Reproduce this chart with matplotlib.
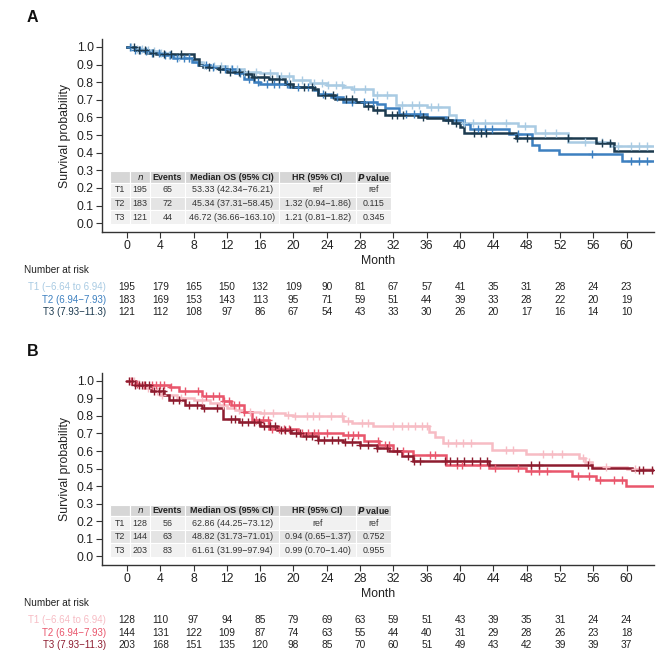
import numpy as np
import matplotlib
matplotlib.use("Agg")
import matplotlib.pyplot as plt
import matplotlib.transforms as mtransforms
from matplotlib.patches import Rectangle

plt.rcParams['font.family'] = ['Liberation Sans Narrow', 'Liberation Sans', 'DejaVu Sans']
plt.rcParams['mathtext.fontset'] = 'custom'
plt.rcParams['mathtext.rm'] = 'Liberation Sans Narrow'
plt.rcParams['mathtext.bf'] = 'Liberation Sans Narrow:bold'
plt.rcParams['mathtext.it'] = 'Liberation Sans Narrow:italic'
plt.rcParams['mathtext.bfit'] = 'Liberation Sans Narrow:italic:bold'

# ---------------- data ----------------
groups = ["T1 (\u22126.64 to 6.94)", "T2 (6.94\u22127.93)", "T3 (7.93\u221211.3)"]
risk_times = [0, 4, 8, 12, 16, 20, 24, 28, 32, 36, 40, 44, 48, 52, 56, 60]

# Panel A
a_t1_times = [0, 1, 2, 3, 4, 5, 6, 7, 8, 9, 10, 12, 14, 16, 18, 20, 22, 24, 26, 27, 29.5, 32.3, 36, 38.7, 39.5, 47, 49, 53, 58]
a_t1_surv = [1.0, 0.99, 0.985, 0.975, 0.965, 0.955, 0.945, 0.935, 0.915, 0.9, 0.89, 0.875, 0.86, 0.85, 0.835, 0.81, 0.795, 0.785, 0.775, 0.76, 0.73, 0.67, 0.657, 0.614, 0.57, 0.55, 0.513, 0.462, 0.437]
a_t2_times = [0, 1, 2, 3, 4, 5.5, 7.8, 8.5, 10, 11, 13, 14, 15.3, 16, 19.5, 22.5, 23, 24.5, 26, 30, 31, 32.7, 36, 38.3, 40.5, 41.2, 45.9, 48.6, 49.5, 51.9, 59.4]
a_t2_surv = [1.0, 0.985, 0.975, 0.965, 0.955, 0.935, 0.915, 0.9, 0.885, 0.875, 0.85, 0.82, 0.80, 0.79, 0.775, 0.755, 0.735, 0.715, 0.69, 0.675, 0.655, 0.62, 0.605, 0.585, 0.56, 0.535, 0.505, 0.443, 0.415, 0.392, 0.354]
a_t3_times = [0, 1, 2.5, 3.5, 8, 8.6, 9.1, 11, 12, 14, 15, 17, 19, 20, 22.5, 23, 25, 27.5, 28.5, 29.5, 31, 35, 36, 38, 39, 40, 40.5, 46.7, 56.3, 58.5]
a_t3_surv = [1.0, 0.985, 0.967, 0.96, 0.93, 0.9, 0.888, 0.875, 0.86, 0.845, 0.83, 0.82, 0.79, 0.775, 0.76, 0.725, 0.705, 0.69, 0.665, 0.645, 0.614, 0.605, 0.595, 0.585, 0.57, 0.547, 0.51, 0.483, 0.453, 0.41]
a_t1_cens = [0.5, 1.2, 1.8, 2.5, 3.2, 4.1, 5.0, 6.3, 7.5, 9.2, 10.5, 11.3, 12.5, 13.2, 14.1, 15.5, 17.2, 18.5, 19.5, 21, 22.5, 23.4, 24.2, 25.1, 25.8, 27.3, 28.6, 30.0, 31.2, 33.0, 34.2, 35.1, 36.5, 37.4, 40.5, 41.6, 43.0, 45.5, 47.8, 50.2, 51.5, 55, 57, 59, 60.5, 61.5, 62.5]
a_t2_cens = [0.4, 1.0, 1.6, 2.3, 3.0, 3.8, 4.6, 5.2, 6.0, 6.8, 7.4, 9.5, 10.3, 11.8, 12.6, 13.6, 14.6, 15.7, 16.8, 17.6, 18.3, 19.2, 20.5, 21.7, 23.5, 25.2, 27.0, 28.5, 29.5, 33.5, 34.5, 35.2, 42.2, 43.0, 43.8, 47.0, 55.8, 60.5, 61.5, 62.5]
a_t3_cens = [0.8, 1.5, 2.2, 3.1, 4.4, 5.3, 6.5, 9.8, 11.2, 12.4, 13.5, 14.5, 15.2, 16.4, 17.4, 18.2, 19.6, 21.3, 22.2, 23.8, 24.8, 26.3, 27.0, 29.0, 30.0, 31.8, 32.4, 33.2, 35.5, 38.6, 39.5, 41.7, 42.5, 43.1, 46.9, 48.0, 53.0, 57.0, 58.0]
a_risk_t1 = [195, 179, 165, 150, 132, 109, 90, 81, 67, 57, 41, 35, 31, 28, 24, 23]
a_risk_t2 = [183, 169, 153, 143, 113, 95, 71, 59, 51, 44, 39, 33, 28, 22, 20, 19]
a_risk_t3 = [121, 112, 108, 97, 86, 67, 54, 43, 33, 30, 26, 20, 17, 16, 14, 10]
a_n = ["195", "183", "121"]
a_events = ["65", "72", "44"]
a_median = ["53.33 (42.34\u221276.21)", "45.34 (37.31\u221258.45)", "46.72 (36.66\u2212163.10)"]
a_hr = ["ref", "1.32 (0.94\u22121.86)", "1.21 (0.81\u22121.82)"]
a_p = ["ref", "0.115", "0.345"]

# Panel B
b_t1_times = [0, 1, 2, 3, 4, 6, 8, 10, 11, 12, 13, 14, 16, 19, 20, 26, 27, 29.5, 36.3, 37, 38, 43.9, 47.9, 54.3, 55, 55.8, 60]
b_t1_surv = [1.0, 0.98, 0.96, 0.94, 0.92, 0.905, 0.89, 0.875, 0.86, 0.845, 0.835, 0.825, 0.815, 0.805, 0.80, 0.77, 0.76, 0.74, 0.71, 0.68, 0.646, 0.608, 0.583, 0.56, 0.54, 0.51, 0.50]
b_t2_times = [0, 1, 1.5, 5.2, 6.2, 9, 11.5, 12.5, 14, 15, 17, 20.5, 26, 28.5, 30.3, 32, 34.3, 38.3, 43.5, 47.9, 53.5, 56.3, 59.9]
b_t2_surv = [1.0, 0.985, 0.975, 0.965, 0.945, 0.915, 0.885, 0.865, 0.82, 0.775, 0.725, 0.705, 0.69, 0.66, 0.635, 0.60, 0.58, 0.523, 0.505, 0.485, 0.456, 0.437, 0.40]
b_t3_times = [0, 1, 2.9, 4.5, 5, 7, 9, 11.5, 13.5, 16, 18, 19.7, 21, 22.9, 26, 28, 30, 31.5, 33, 34.3, 43.5, 55.9, 60.7]
b_t3_surv = [1.0, 0.975, 0.94, 0.92, 0.89, 0.865, 0.845, 0.78, 0.765, 0.745, 0.72, 0.70, 0.685, 0.665, 0.65, 0.635, 0.615, 0.60, 0.57, 0.545, 0.52, 0.504, 0.49]
b_t1_cens = [0.3, 0.8, 1.5, 2.5, 3.6, 4.2, 6.5, 9.0, 11.5, 13.5, 14.8, 16.5, 17.5, 19.3, 20.2, 21.6, 22.4, 23.1, 24.5, 25.8, 26.6, 28.2, 29.0, 32.0, 33.0, 33.8, 34.6, 35.4, 36.0, 38.5, 39.5, 40.4, 41.3, 45.5, 46.4, 50.0, 51.0, 52.2, 54.8, 55.5, 57.5, 61.0]
b_t2_cens = [0.5, 1.2, 2.0, 3.0, 3.5, 4.0, 4.5, 5.3, 7.0, 8.5, 9.5, 10.3, 11.0, 11.6, 12.3, 12.8, 13.5, 14.0, 15.5, 16.3, 16.9, 17.4, 18.2, 18.9, 19.5, 21.0, 21.8, 22.5, 23.0, 24.0, 26.5, 27.2, 27.8, 30.2, 31.0, 31.5, 33.2, 36.4, 37.0, 39.6, 40.2, 42.4, 44.2, 47.0, 48.5, 49.5, 50.5, 54.2, 55.5, 56.8, 58.5, 59.5]
b_t3_cens = [0.2, 0.6, 1.0, 1.4, 1.8, 2.2, 2.7, 3.3, 3.8, 4.3, 5.5, 6.2, 7.5, 8.4, 9.3, 10.8, 12.5, 13.0, 13.8, 14.5, 15.2, 15.8, 16.5, 17.2, 17.8, 18.5, 19.0, 19.6, 20.3, 20.8, 21.5, 22.2, 23.0, 23.7, 24.6, 25.4, 26.2, 27.0, 28.0, 29.0, 30.0, 31.2, 32.4, 33.8, 34.5, 35.2, 38.2, 38.8, 39.6, 40.5, 41.5, 42.4, 43.3, 48.5, 49.5, 55.4, 61.5, 62.0, 63.0]
b_risk_t1 = [128, 110, 97, 94, 85, 79, 69, 63, 59, 51, 43, 39, 35, 31, 24, 24]
b_risk_t2 = [144, 131, 122, 109, 87, 74, 63, 55, 44, 40, 31, 29, 28, 26, 23, 18]
b_risk_t3 = [203, 168, 151, 135, 120, 98, 85, 70, 60, 51, 49, 43, 42, 39, 39, 37]
b_n = ["128", "144", "203"]
b_events = ["56", "63", "83"]
b_median = ["62.86 (44.25\u221273.12)", "48.82 (31.73\u221271.01)", "61.61 (31.99\u221297.94)"]
b_hr = ["ref", "0.94 (0.65\u22121.37)", "0.99 (0.70\u22121.40)"]
b_p = ["ref", "0.752", "0.955"]

table_header = ["", "n", "Events", "Median OS (95% CI)", "HR (95% CI)", "P value"]
row_names = ["T1", "T2", "T3"]

colors_a = ["#a9cbe3", "#3d80c0", "#1c3a4f"]
colors_b = ["#f7bcc4", "#e9566c", "#8d1c2f"]

# ---------------- layout ----------------
W, H = 662, 656
fig = plt.figure(figsize=(W / 100, H / 100), dpi=100)

def fy(py):
    return 1 - py / H

END = 63.2
XLIM = (-3.0, 63.3)
YLIM = (-0.05, 1.045)
col_edges = [-2.0, 0.4, 2.75, 6.95, 18.3, 27.5, 31.7]  # months
row_edges = [0.295, 0.227, 0.150, 0.073, -0.004]        # survival units
TFS = 6.4


def step_at(times, surv, t):
    idx = np.searchsorted(np.asarray(times), np.asarray(t), side='right') - 1
    return np.asarray(surv)[idx]


def panel(top_px, bot_px, letter, curves, risks, table_cols, colors):
    left, right = 102 / W, 654 / W
    ax = fig.add_axes([left, fy(bot_px), right - left, fy(top_px) - fy(bot_px)])
    for (tm, sv, cens), c in zip(curves, colors):
        tt = list(tm) + [END]
        ss = list(sv) + [sv[-1]]
        ax.step(tt, ss, where='post', color=c, lw=1.8, solid_joinstyle='miter', zorder=3)
        ax.plot(cens, step_at(tm, sv, cens), ls='none', marker='+', ms=6, mew=1.0,
                color=c, zorder=4)
    ax.set_xlim(*XLIM)
    ax.set_ylim(*YLIM)
    ax.set_xticks(risk_times)
    ax.set_yticks(np.round(np.arange(0, 1.01, 0.1), 1))
    ax.set_yticklabels([f"{v:.1f}" for v in np.arange(0, 1.01, 0.1)])
    for s in ['top', 'right']:
        ax.spines[s].set_visible(False)
    for s in ['left', 'bottom']:
        ax.spines[s].set_color('#333333')
        ax.spines[s].set_linewidth(1.0)
    ax.tick_params(axis='both', direction='out', length=4, width=0.8, color='#333333',
                   labelsize=8.8, labelcolor='#222222', pad=2)
    ax.set_ylabel("Survival probability", fontsize=8.8, color='#222222', labelpad=4)
    ax.set_xlabel("Month", fontsize=8.8, color='#222222', labelpad=2)

    # table
    ncol = len(table_header)
    bgs = ['#d6d6d6', '#f1f1f1', '#e4e4e4', '#f1f1f1']
    for r in range(4):
        y0, y1 = row_edges[r + 1], row_edges[r]
        for cidx in range(ncol):
            x0, x1 = col_edges[cidx], col_edges[cidx + 1]
            ax.add_patch(Rectangle((x0, y0), x1 - x0, y1 - y0, facecolor=bgs[r],
                                   edgecolor='white', lw=0.8, zorder=5, clip_on=False))
            yc = (y0 + y1) / 2
            if r == 0:
                txt = table_header[cidx]
                if txt == "n":
                    txt = r"$\mathit{n}$"
                elif txt == "P value":
                    txt = r"$\mathbfit{P}$ value"
                if txt:
                    ax.text((x0 + x1) / 2, yc, txt, fontsize=TFS, fontweight='bold',
                            ha='center', va='center', zorder=6, color='#222222')
            else:
                vals = [row_names[r - 1]] + [col[r - 1] for col in table_cols]
                ax.text((x0 + x1) / 2, yc, vals[cidx], fontsize=TFS,
                        ha='center', va='center', zorder=6, color='#333333')

    # panel letter
    fig.text(27 / W, fy(top_px - 21), letter, fontsize=11.5, fontweight='bold',
             ha='left', va='center', color='#111111')

    # number at risk
    trans = mtransforms.blended_transform_factory(ax.transData, fig.transFigure)
    fig.text(24 / W, fy(bot_px + 38), "Number at risk", fontsize=7.2, ha='left', va='center',
             color='#222222')
    for i, (risk, c) in enumerate(zip(risks, colors)):
        ypx = bot_px + 55 + i * 12.7
        fig.text(106 / W, fy(ypx), groups[i], fontsize=7.0, ha='right', va='center', color=c)
        for t, v in zip(risk_times, risk):
            ax.text(t, fy(ypx), str(v), transform=trans, fontsize=7.3, ha='center',
                    va='center', color='#222222')
    return ax


panel(39, 232, "A",
      [(a_t1_times, a_t1_surv, a_t1_cens), (a_t2_times, a_t2_surv, a_t2_cens),
       (a_t3_times, a_t3_surv, a_t3_cens)],
      [a_risk_t1, a_risk_t2, a_risk_t3],
      [a_n, a_events, a_median, a_hr, a_p], colors_a)

panel(373, 565, "B",
      [(b_t1_times, b_t1_surv, b_t1_cens), (b_t2_times, b_t2_surv, b_t2_cens),
       (b_t3_times, b_t3_surv, b_t3_cens)],
      [b_risk_t1, b_risk_t2, b_risk_t3],
      [b_n, b_events, b_median, b_hr, b_p], colors_b)

fig.savefig("out.png", dpi=100, facecolor='white')
